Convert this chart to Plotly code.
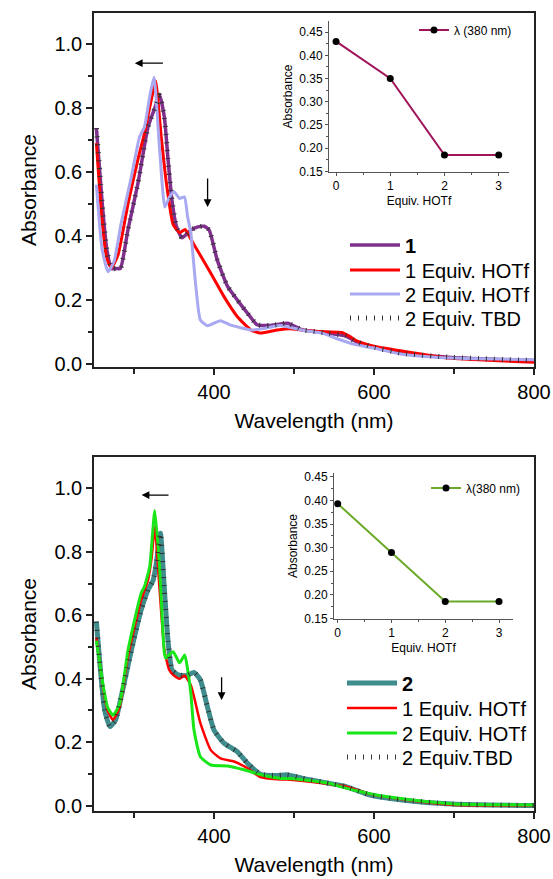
import plotly.graph_objects as go

# ---------------- Top panel data (compound 1) ----------------
wl_c1 = [253, 260, 266, 272, 278, 283, 292.5, 305, 317.5, 326, 332, 338, 342.5, 347.5, 353, 360, 371,
         380, 388, 394, 404, 417, 429, 442, 454, 470, 479, 492, 511, 536, 565, 577, 598, 635, 697, 800]
abs_c1 = [0.737, 0.51, 0.357, 0.298, 0.298, 0.298, 0.42, 0.565, 0.74, 0.80, 0.84, 0.77, 0.64, 0.51,
          0.43, 0.394, 0.418, 0.428, 0.43, 0.418, 0.325, 0.242, 0.20, 0.158, 0.122, 0.12, 0.123, 0.127,
          0.106, 0.098, 0.087, 0.07, 0.053, 0.033, 0.02, 0.01]

wl_r1 = [253, 260, 266, 271.7, 280, 292.5, 305, 313, 317, 322, 327, 334, 340.5, 349, 357, 364, 371,
         379, 396, 412.5, 429, 446, 458, 479, 495, 511, 540, 560, 570, 580, 600, 635, 697, 800]
abs_r1 = [0.69, 0.45, 0.33, 0.30, 0.34, 0.50, 0.64, 0.72, 0.77, 0.83, 0.885, 0.71, 0.565, 0.435,
          0.41, 0.42, 0.39, 0.356, 0.283, 0.21, 0.148, 0.106, 0.096, 0.106, 0.11, 0.105, 0.10, 0.098,
          0.085, 0.07, 0.055, 0.04, 0.017, 0.005]

wl_l1 = [253, 260, 267.5, 275, 284, 296.7, 307, 313, 319.6, 325, 332, 338.6, 344, 350, 357, 363,
         367, 371, 377, 383, 392, 408, 421, 446, 462, 482, 511, 536, 552, 577, 598, 635, 697, 800]
abs_l1 = [0.56, 0.36, 0.288, 0.32, 0.44, 0.585, 0.71, 0.74, 0.835, 0.896, 0.67, 0.49, 0.52, 0.538,
          0.517, 0.522, 0.46, 0.41, 0.25, 0.137, 0.119, 0.135, 0.121, 0.106, 0.11, 0.12, 0.105, 0.095,
          0.08, 0.06, 0.05, 0.03, 0.018, 0.013]

wl_t1 = wl_c1
abs_t1 = abs_c1

# ---------------- Bottom panel data (compound 2) ----------------
wl_c2 = [253, 263.4, 270, 277, 284, 296.7, 309, 317.5, 324, 328, 333, 338, 342.5, 347.5, 355, 365.5,
         375, 383, 391.7, 400, 412.5, 429, 441.7, 458, 478, 491, 511, 544, 565, 594, 635, 697, 800]
abs_c2 = [0.58, 0.30, 0.249, 0.27, 0.343, 0.49, 0.617, 0.68, 0.711, 0.765, 0.859, 0.68, 0.52, 0.428,
          0.412, 0.41, 0.42, 0.396, 0.312, 0.238, 0.197, 0.17, 0.134, 0.099, 0.095, 0.097, 0.086, 0.07,
          0.06, 0.034, 0.018, 0.005, 0.0]

wl_r2 = [253, 262, 267, 273.7, 282, 292.5, 309, 317.5, 322, 326, 332, 338, 344, 350, 357, 363, 371,
         383, 396, 408, 425, 441.7, 458, 479, 491, 544, 565, 594, 635, 697, 800]
abs_r2 = [0.53, 0.36, 0.30, 0.27, 0.31, 0.47, 0.648, 0.71, 0.78, 0.879, 0.68, 0.49, 0.428, 0.41,
          0.40, 0.41, 0.38, 0.26, 0.175, 0.149, 0.139, 0.118, 0.09, 0.083, 0.082, 0.068, 0.06, 0.037,
          0.02, 0.003, 0.0]

wl_g2 = [253, 262, 267, 273.7, 282, 292.5, 309, 313, 319.6, 326, 332, 338, 340, 344, 349, 357, 363.4,
         367, 371, 375, 383, 396, 417, 437.5, 458, 482, 500, 544, 565, 600, 640, 700, 800]
abs_g2 = [0.52, 0.37, 0.31, 0.285, 0.32, 0.49, 0.67, 0.69, 0.753, 0.93, 0.75, 0.48, 0.465, 0.475,
          0.485, 0.45, 0.475, 0.43, 0.355, 0.238, 0.154, 0.128, 0.125, 0.113, 0.098, 0.086, 0.085,
          0.07, 0.055, 0.035, 0.02, 0.005, 0.002]

wl_t2 = wl_c2
abs_t2 = abs_c2

# ---------------- Insets ----------------
equiv = [0, 1, 2, 3]
inset1_abs = [0.43, 0.35, 0.185, 0.185]
inset2_abs = [0.393, 0.29, 0.186, 0.186]

FONT = "Arial, Liberation Sans, sans-serif"
W, H = 553, 879

def py(y):
    return 1 - y / H

def px(x):
    return x / W

fig = go.Figure()

SPL = dict(shape="spline", smoothing=0.5)
TICKDASH = dict(color="#333333", width=5, dash="1px,7px", **SPL)

# top main (each legend entry in its own legend box so row spacing can match)
fig.add_trace(go.Scatter(x=wl_c1, y=abs_c1, name="<b>1</b>", mode="lines",
                         line=dict(color="#7f2f8c", width=3.5, **SPL),
                         xaxis="x", yaxis="y", legend="legend"))
fig.add_trace(go.Scatter(x=wl_r1, y=abs_r1, name="1 Equiv. HOTf", mode="lines",
                         line=dict(color="#ff0000", width=3, **SPL),
                         xaxis="x", yaxis="y", legend="legend2"))
fig.add_trace(go.Scatter(x=wl_l1, y=abs_l1, name="2 Equiv. HOTf", mode="lines",
                         line=dict(color="#a9a9f2", width=3, **SPL),
                         xaxis="x", yaxis="y", legend="legend3"))
fig.add_trace(go.Scatter(x=wl_t1, y=abs_t1, name="2 Equiv. TBD", mode="lines",
                         line=TICKDASH, xaxis="x", yaxis="y", legend="legend4"))

# bottom main
fig.add_trace(go.Scatter(x=wl_c2, y=abs_c2, name="<b>2</b>", mode="lines",
                         line=dict(color="#3f8c8c", width=5, **SPL),
                         xaxis="x2", yaxis="y2", legend="legend5"))
fig.add_trace(go.Scatter(x=wl_r2, y=abs_r2, name="1 Equiv. HOTf", mode="lines",
                         line=dict(color="#ff0000", width=2.5, **SPL),
                         xaxis="x2", yaxis="y2", legend="legend6"))
fig.add_trace(go.Scatter(x=wl_g2, y=abs_g2, name="2 Equiv. HOTf", mode="lines",
                         line=dict(color="#19e619", width=3, **SPL),
                         xaxis="x2", yaxis="y2", legend="legend7"))
fig.add_trace(go.Scatter(x=wl_t2, y=abs_t2, name="2 Equiv.TBD", mode="lines",
                         line=TICKDASH, xaxis="x2", yaxis="y2", legend="legend8"))

# insets
fig.add_trace(go.Scatter(x=equiv, y=inset1_abs, name="λ (380 nm)", mode="lines+markers",
                         line=dict(color="#a0145a", width=2), marker=dict(color="black", size=7),
                         xaxis="x3", yaxis="y3", legend="legend9"))
fig.add_trace(go.Scatter(x=equiv, y=inset2_abs, name="λ(380 nm)", mode="lines+markers",
                         line=dict(color="#6aaa28", width=2), marker=dict(color="black", size=7),
                         xaxis="x4", yaxis="y4", legend="legend10"))

main_x = dict(range=[250, 800], tick0=400, dtick=200, ticks="outside", ticklen=6, tickwidth=1.5,
              minor=dict(dtick=100, ticks="outside", ticklen=5, tickwidth=1.5, tickcolor="#222"),
              showline=True, linecolor="#222", linewidth=1.5, mirror=True, showgrid=False, zeroline=False,
              tickfont=dict(size=20, family=FONT, color="black"), tickcolor="#222", automargin=False,
              title=dict(text="Wavelength (nm)", font=dict(size=21, family=FONT, color="black"), standoff=12))
main_y = dict(tick0=0, dtick=0.2, tickformat=".1f", ticks="outside", ticklen=6, tickwidth=1.5,
              minor=dict(dtick=0.1, ticks="outside", ticklen=4, tickwidth=1.5, tickcolor="#222"),
              showline=True, linecolor="#222", linewidth=1.5, mirror=True, showgrid=False, zeroline=False,
              tickfont=dict(size=20, family=FONT, color="black"), tickcolor="#222", automargin=False,
              title=dict(text="Absorbance", font=dict(size=21, family=FONT, color="black"), standoff=12))

inset_x = dict(tickvals=equiv, ticks="outside", ticklen=3, tickwidth=1,
               minor=dict(dtick=0.5, ticks="outside", ticklen=2, tickcolor="#555"),
               showline=True, linecolor="#555", linewidth=1, showgrid=False, zeroline=False,
               tickfont=dict(size=12, family=FONT, color="black"), tickcolor="#555", automargin=False,
               title=dict(text="Equiv. HOTf", font=dict(size=12, family=FONT, color="black"), standoff=4))
inset_y = dict(tick0=0.15, dtick=0.05, tickformat=".2f", ticks="outside", ticklen=3, tickwidth=1,
               minor=dict(dtick=0.025, ticks="outside", ticklen=2, tickcolor="#555"),
               showline=True, linecolor="#555", linewidth=1, showgrid=False, zeroline=False,
               tickfont=dict(size=12, family=FONT, color="black"), tickcolor="#555", automargin=False,
               title=dict(text="Absorbance", font=dict(size=12, family=FONT, color="black"), standoff=4))

def leg(xp, yc, size=20, iw=50):
    return dict(x=px(xp), y=py(yc), xanchor="left", yanchor="middle", bgcolor="rgba(0,0,0,0)",
                font=dict(size=size, family=FONT, color="black"), itemwidth=iw,
                borderwidth=0)

fig.update_layout(
    width=W, height=H, margin=dict(l=0, r=0, t=0, b=0, autoexpand=False),
    paper_bgcolor="white", plot_bgcolor="rgba(0,0,0,0)",
    font=dict(family=FONT, color="black"),
    xaxis=dict(main_x, domain=[px(94), px(534)], anchor="y"),
    yaxis=dict(main_y, domain=[py(367), py(13)], range=[-0.01, 1.097], anchor="x"),
    xaxis2=dict(main_x, domain=[px(94), px(534)], anchor="y2"),
    yaxis2=dict(main_y, domain=[py(811), py(457)], range=[-0.017, 1.099], anchor="x2"),
    xaxis3=dict(inset_x, domain=[px(329), px(509)], range=[-0.13, 3.19], anchor="y3"),
    yaxis3=dict(inset_y, domain=[py(172), py(21)], range=[0.1485, 0.474], anchor="x3"),
    xaxis4=dict(inset_x, domain=[px(334), px(513)], range=[-0.069, 3.26], anchor="y4"),
    yaxis4=dict(inset_y, domain=[py(619), py(473)], range=[0.149, 0.458], anchor="x4"),
    legend=leg(345, 245), legend2=leg(345, 270), legend3=leg(345, 294), legend4=leg(345, 318),
    legend5=leg(342, 683), legend6=leg(342, 708), legend7=leg(342, 733), legend8=leg(342, 757),
    legend9=leg(414, 30, 12, 30), legend10=leg(426, 488, 12, 30),
    showlegend=True,
)

# arrows
arrows = [
    dict(x=301, y=0.94, ax=338, ay=0.94, xref="x", yref="y"),
    dict(x=392, y=0.49, ax=392, ay=0.584, xref="x", yref="y"),
    dict(x=309.5, y=0.979, ax=345, ay=0.979, xref="x2", yref="y2"),
    dict(x=409.5, y=0.333, ax=409.5, ay=0.409, xref="x2", yref="y2"),
]
for a in arrows:
    fig.add_annotation(x=a["x"], y=a["y"], ax=a["ax"], ay=a["ay"], xref=a["xref"], yref=a["yref"],
                       axref=a["xref"], ayref=a["yref"], text="", showarrow=True,
                       arrowhead=2, arrowsize=1.2, arrowwidth=1.3, arrowcolor="black")

fig.write_html("out.html")
